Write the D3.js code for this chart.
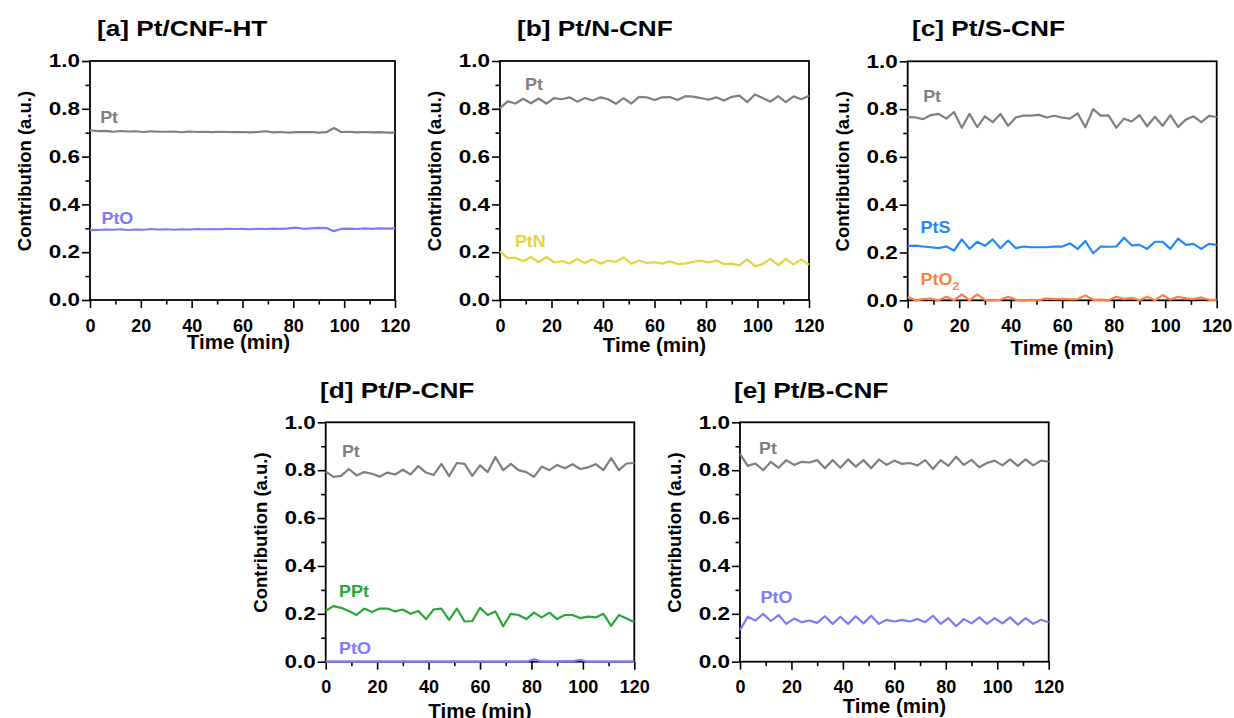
<!DOCTYPE html>
<html><head><meta charset="utf-8">
<script src="https://cdn.jsdelivr.net/npm/d3@7"></script>
<style>
body{margin:0;background:#fff}
text{font-family:"Liberation Sans",Arial,Helvetica,sans-serif;font-weight:bold}
</style>
</head><body>
<svg id="chart" width="1234" height="718"></svg>
<script>
// ---------- data ----------
const time = [0,3,6,9,12,15,18,21,24,27,30,33,36,39,42,45,48,51,54,57,60,63,66,69,72,75,78,81,84,87,90,93,96,99,102,105,108,111,114,117,120];
const xTickValues = [0,20,40,60,80,100,120];
const xMinorTicks = [10,30,50,70,90,110];
const yTickValues = [0.0,0.2,0.4,0.6,0.8,1.0];
const yMinorTicks = [0.1,0.3,0.5,0.7,0.9];

// [a] Pt/CNF-HT
const aPt  = [0.710,0.707,0.708,0.704,0.707,0.705,0.706,0.703,0.706,0.704,0.704,0.705,0.702,0.705,0.703,0.704,0.702,0.704,0.703,0.702,0.703,0.701,0.703,0.706,0.701,0.703,0.700,0.702,0.702,0.703,0.700,0.702,0.720,0.702,0.704,0.701,0.703,0.701,0.702,0.700,0.700];
const aPtO = [0.292,0.293,0.295,0.294,0.296,0.293,0.295,0.294,0.297,0.295,0.296,0.294,0.296,0.295,0.297,0.296,0.297,0.296,0.298,0.297,0.298,0.296,0.298,0.297,0.299,0.298,0.300,0.303,0.298,0.300,0.302,0.301,0.288,0.298,0.299,0.297,0.300,0.298,0.300,0.299,0.300];
// [b] Pt/N-CNF
const bPt  = [0.803,0.831,0.822,0.842,0.823,0.843,0.822,0.845,0.840,0.848,0.830,0.845,0.835,0.848,0.840,0.821,0.845,0.822,0.850,0.848,0.837,0.848,0.849,0.837,0.853,0.851,0.845,0.838,0.848,0.835,0.850,0.855,0.828,0.860,0.845,0.830,0.853,0.828,0.852,0.840,0.855];
const bPtN = [0.203,0.175,0.177,0.162,0.180,0.158,0.180,0.157,0.163,0.153,0.172,0.155,0.170,0.152,0.165,0.160,0.178,0.152,0.165,0.155,0.158,0.152,0.162,0.150,0.152,0.160,0.165,0.157,0.165,0.150,0.152,0.145,0.170,0.142,0.150,0.172,0.145,0.172,0.148,0.170,0.148];
// [c] Pt/S-CNF
const cPt   = [0.767,0.765,0.758,0.775,0.780,0.760,0.788,0.722,0.780,0.725,0.770,0.745,0.780,0.730,0.765,0.773,0.773,0.776,0.765,0.772,0.764,0.760,0.782,0.724,0.800,0.773,0.774,0.722,0.760,0.748,0.775,0.728,0.768,0.730,0.775,0.725,0.756,0.770,0.745,0.772,0.767];
const cPtS  = [0.227,0.229,0.225,0.222,0.218,0.225,0.208,0.255,0.215,0.245,0.228,0.255,0.218,0.250,0.218,0.225,0.222,0.222,0.222,0.225,0.225,0.238,0.215,0.248,0.197,0.225,0.224,0.225,0.262,0.230,0.232,0.215,0.245,0.245,0.215,0.258,0.232,0.236,0.215,0.236,0.232];
const cPtO2 = [0.015,0.000,0.005,0.007,0.000,0.015,0.000,0.025,0.000,0.025,0.002,0.000,0.002,0.015,0.002,0.000,0.002,0.000,0.008,0.005,0.006,0.004,0.005,0.020,0.002,0.003,0.000,0.015,0.005,0.010,0.000,0.015,0.000,0.022,0.003,0.015,0.008,0.005,0.012,0.002,0.002];
// [d] Pt/P-CNF
const dPt  = [0.794,0.772,0.776,0.805,0.778,0.792,0.785,0.773,0.790,0.782,0.802,0.782,0.817,0.790,0.780,0.826,0.775,0.830,0.826,0.776,0.820,0.792,0.855,0.800,0.826,0.800,0.792,0.772,0.815,0.800,0.822,0.808,0.825,0.805,0.812,0.825,0.800,0.850,0.800,0.828,0.830];
const dPPt = [0.213,0.232,0.225,0.212,0.195,0.222,0.208,0.222,0.222,0.210,0.218,0.200,0.212,0.178,0.218,0.222,0.175,0.222,0.168,0.170,0.225,0.195,0.210,0.148,0.200,0.195,0.178,0.205,0.185,0.205,0.178,0.195,0.195,0.182,0.188,0.185,0.200,0.150,0.195,0.180,0.165];
const dPtO = [0,0,0,0,0,0,0,0,0,0,0,0,0,0,0,0,0,0,0,0,0,0,0,0,0,0,0,0.010,0,0,0,0.003,0.002,0.008,0,0,0,0,0,0,0];
// [e] Pt/B-CNF
const ePt  = [0.868,0.818,0.828,0.800,0.835,0.810,0.842,0.822,0.835,0.832,0.842,0.808,0.842,0.810,0.845,0.815,0.842,0.808,0.845,0.822,0.840,0.826,0.830,0.820,0.842,0.805,0.842,0.818,0.856,0.822,0.843,0.812,0.830,0.840,0.820,0.845,0.818,0.845,0.820,0.840,0.836];
const ePtO = [0.132,0.188,0.172,0.200,0.170,0.195,0.158,0.180,0.165,0.172,0.162,0.190,0.158,0.188,0.158,0.190,0.160,0.192,0.158,0.175,0.168,0.175,0.168,0.178,0.165,0.192,0.158,0.182,0.148,0.178,0.160,0.185,0.158,0.182,0.160,0.185,0.155,0.182,0.158,0.175,0.165];

// ---------- styles / layout ----------
const GRAY="#7f7f7f", LAV="#7b7bff", YEL="#e6d43a", BLUE="#1e88ff", ORANGE="#ff7f45", GREEN="#28a838";

const panels = [
  {title:"[a] Pt/CNF-HT", L:90, T:61, W:305, H:239, tx:97, ty:36, xl:49, xo:-4,
   series:[{name:"Pt",v:aPt,c:GRAY,lt:4,lv:0.74},{name:"PtO",v:aPtO,c:LAV,lt:4.5,lv:0.32}]},
  {title:"[b] Pt/N-CNF", L:500, T:61, W:309, H:239, tx:517, ty:36, xl:52, xo:0,
   series:[{name:"Pt",v:bPt,c:GRAY,lt:9.7,lv:0.88},{name:"PtN",v:bPtN,c:YEL,lt:5.8,lv:0.223}]},
  {title:"[c] Pt/S-CNF", L:907.7, T:61.3, W:309, H:239, tx:912, ty:36, xl:55, xo:0,
   series:[{name:"Pt",v:cPt,c:GRAY,lt:6,lv:0.83},{name:"PtS",v:cPtS,c:BLUE,lt:5,lv:0.28},{name:"PtO",sub:"2",v:cPtO2,c:ORANGE,lt:5,lv:0.064}]},
  {title:"[d] Pt/P-CNF", L:325.7, T:422.3, W:308.6, H:239.4, tx:320, ty:398, xl:56, xo:0,
   series:[{name:"Pt",v:dPt,c:GRAY,lt:6.3,lv:0.854},{name:"PPt",v:dPPt,c:GREEN,lt:5.2,lv:0.269},{name:"PtO",v:dPtO,c:LAV,lt:5.2,lv:0.032}]},
  {title:"[e] Pt/B-CNF", L:740, T:422.3, W:308.7, H:239.4, tx:734, ty:398, xl:51, xo:0,
   series:[{name:"Pt",v:ePt,c:GRAY,lt:7.4,lv:0.868},{name:"PtO",v:ePtO,c:LAV,lt:8,lv:0.244}]}
];

const svg = d3.select("#chart");

panels.forEach(p => {
  const g = svg.append("g").attr("transform", `translate(${p.L},${p.T})`);
  const x = d3.scaleLinear().domain([0,120]).range([0,p.W]);
  const y = d3.scaleLinear().domain([0,1]).range([p.H,0]);

  // minor ticks
  g.append("g").attr("transform",`translate(0,${p.H})`)
    .call(d3.axisBottom(x).tickValues(xMinorTicks).tickSize(4.5).tickFormat(""))
    .call(s=>s.select(".domain").remove());
  g.append("g")
    .call(d3.axisLeft(y).tickValues(yMinorTicks).tickSize(4.5).tickFormat(""))
    .call(s=>s.select(".domain").remove());
  // major ticks
  const xa = g.append("g").attr("transform",`translate(0,${p.H})`)
    .call(d3.axisBottom(x).tickValues(xTickValues).tickSize(8).tickPadding(11).tickFormat(d3.format("d")))
    .call(s=>s.select(".domain").remove());
  xa.selectAll("text").attr("fill","#000").style("font-size","18px");
  const ya = g.append("g")
    .call(d3.axisLeft(y).tickValues(yTickValues).tickSize(8).tickPadding(0).tickFormat(d3.format(".1f")))
    .call(s=>s.select(".domain").remove());
  ya.selectAll("text").attr("fill","#000").style("font-size","18px")
    .attr("x", -10/1.25).attr("transform","scale(1.25,1)");
  g.selectAll(".tick line").attr("stroke","#000").attr("stroke-width",1.6);

  // frame
  g.append("rect").attr("x",0).attr("y",0).attr("width",p.W).attr("height",p.H)
    .attr("fill","none").attr("stroke","#000").attr("stroke-width",1.8);

  // series lines (drawn over the frame, as in the reference)
  const line = d3.line().x((d,i)=>x(time[i])).y(d=>y(d));
  p.series.forEach(s => {
    g.append("path").datum(s.v).attr("d",line)
      .attr("fill","none").attr("stroke",s.c).attr("stroke-width",2.2).attr("stroke-linejoin","round");
  });

  // series labels
  p.series.forEach(s => {
    const t = g.append("text").attr("transform",`translate(${x(s.lt)},${y(s.lv)}) scale(1.12,1)`)
      .attr("fill",s.c).style("font-size","16px").text(s.name);
    if (s.sub) t.append("tspan").attr("dy",5).style("font-size","11px").text(s.sub);
  });

  // title
  svg.append("text").attr("transform",`translate(${p.tx},${p.ty}) scale(1.22,1)`)
    .style("font-size","21.5px").attr("fill","#000").text(p.title);
  // axis titles
  svg.append("text").attr("transform",`translate(${p.L + p.W/2 + p.xo},${p.T + p.H + p.xl})`)
    .attr("text-anchor","middle").style("font-size","20.5px").text("Time (min)");
  svg.append("text").attr("transform",`translate(${p.L - 59},${p.T + p.H/2 - 9.5}) rotate(-90)`)
    .attr("text-anchor","middle").style("font-size","18.5px").text("Contribution (a.u.)");
});
</script>
</body></html>
